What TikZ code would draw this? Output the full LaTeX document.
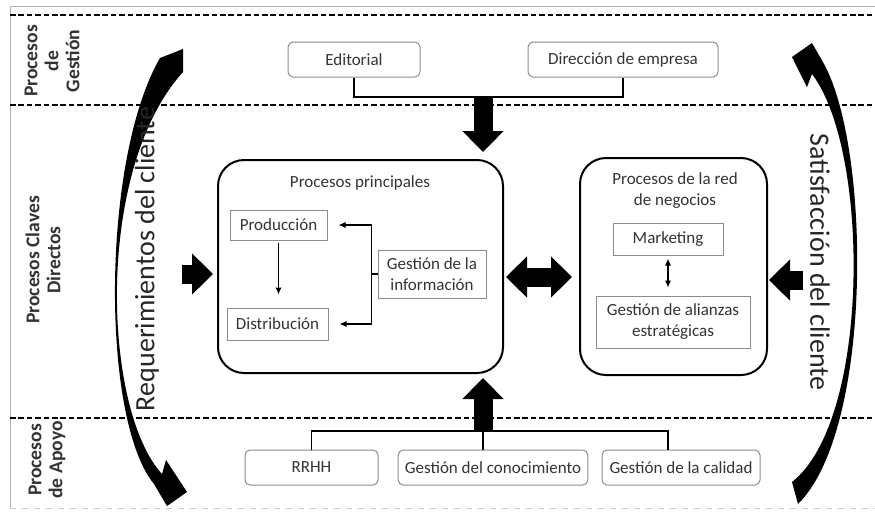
\documentclass[tikz,border=0pt]{standalone}
\usepackage{fontspec}
\setmainfont{Carlito}
\usetikzlibrary{positioning, arrows.meta, calc}

\begin{document}
\begin{tikzpicture}[ x = 0.5pt, y = -0.5pt
                   , font = \fontsize{8.5pt}{10.5pt}\selectfont
                   , >={Latex[width=3.2pt, length=3.5pt]}
                   , procbox/.style = { rectangle
                                      , rounded corners = 2.5pt
                                      , draw = black!45
                                      , line width = 0.5pt
                                      , text = black!80
                                      , minimum height = 17.5pt }
                   , subbox/.style = { rectangle
                                     , draw = black!45
                                     , line width = 0.5pt
                                     , text = black!80
                                     , align = center }
                   , bigbox/.style = { rectangle
                                     , rounded corners = 13pt
                                     , draw = black
                                     , line width = 1pt }
                   , zone/.style = { rotate = 90
                                     , align = center
                                     , text = black!80
                                     , font = \fontsize{9.8pt}{10.5pt}\selectfont\bfseries }
                   , sidetext/.style = { text = black!85
                                       , font = \fontsize{14pt}{16pt}\selectfont }
                   , sepline/.style = { line width = 1.2pt
                                      , dash pattern = on 2.8pt off 1.4pt }
                   , flow/.style = { line width = 0.75pt }
                   , blockarrow/.style = { line width = 9.5pt
                                         , -{Triangle[width=20pt, length=10.5pt]} }
                   ]

  \useasboundingbox (0,0) rectangle (875,511);

  % frame and bands
  \draw[black!30, line width = 0.5pt] (875,6) -- (10,6) -- (10,508);
  \draw[black!20, line width = 0.5pt, dashed] (10,508) -- (875,508);
  \draw[sepline] (10,15) -- (875,15);
  \draw[sepline] (10,105) -- (875,105);
  \draw[sepline] (10,418) -- (875,418);

  \node[zone] (zgest) at (52,61) {Procesos\\de\\Gestión};
  \node[zone] (zdir) at (43,260) {Procesos Claves\\Directos};
  \node[zone] (zapoyo) at (47,460) {Procesos\\de Apoyo};

  % gestion
  \node[procbox, minimum width = 66pt] (edit) at (354,59.5) {Editorial};
  \node[procbox, minimum width = 95pt] (direc) at (623,59.5) {Dirección de empresa};
  \coordinate (gjoin) at (483,97);

  % main processes
  \node[bigbox, minimum width = 142.5pt, minimum height = 106.5pt] (pp) at (360.5,266.5) {};
  \node[text = black!80] (pptitle) at (360,183) {Procesos principales};
  \node[subbox, minimum width = 48.5pt, minimum height = 15pt] (prod) at (278.5,225) {Producción};
  \node[subbox, minimum width = 50.5pt, minimum height = 16pt] (dist) at (277.5,324) {Distribución};
  \node[subbox, minimum width = 54pt, minimum height = 24pt] (ginfo) at (432,274) {Gestión de la\\información};

  \node[bigbox, minimum width = 93.5pt, minimum height = 108.5pt] (red) at (673.5,266.5) {};
  \node[text = black!80, align = center] (redtitle) at (675,191) {Procesos de la red\\de negocios};
  \node[subbox, minimum width = 55pt, minimum height = 16pt] (mkt) at (668,239) {Marketing};
  \node[subbox, minimum width = 77pt, minimum height = 26pt] (alian) at (673,322) {Gestión de alianzas\\estratégicas};

  % apoyo
  \node[procbox, minimum width = 66.5pt] (rrhh) at (311.5,467.5) {RRHH};
  \node[procbox, minimum width = 94pt] (conoc) at (493,467.5) {Gestión del conocimiento};
  \node[procbox, minimum width = 79pt] (calid) at (681,467.5) {Gestión de la calidad};
  \coordinate (ajoin) at (483,431);

  \coordinate (reqin) at (182,274);
  \coordinate (satin) at (803,280);

  % connectors
  \draw[flow] (edit.south) |- (gjoin -| direc.south) -- (direc.south);
  \draw[blockarrow, shorten >= 3.5pt] (gjoin) -- (gjoin |- pp.north);

  \draw[flow] (rrhh.north) |- ([xshift=-6.5pt]calid.north |- ajoin) -- ([xshift=-6.5pt]calid.north);
  \draw[flow] (ajoin) -- (ajoin |- conoc.north);
  \draw[blockarrow, shorten >= 2pt] (ajoin) -- (ajoin |- pp.south);

  \draw[flow, ->, shorten <= 1pt, shorten >= 6.5pt] (prod.south) -- (prod.south |- dist.north);
  \draw[flow] (ginfo.west) -- ++(-3pt,0) coordinate (gb);
  \draw[flow, ->, shorten >= 5.5pt] (gb) |- (prod.east);
  \draw[flow, ->, shorten >= 5.5pt] (gb) |- (dist.east);
  \draw[flow, <->, shorten <= 1.5pt, shorten >= 4pt] (mkt.south) -- (mkt.south |- alian.north);

  \draw[line width = 9.5pt, {Triangle[width=20pt, length=10.5pt]}-{Triangle[width=20pt, length=10.5pt]}, shorten <= 1pt, shorten >= 3.5pt]
    ([yshift=-5.25pt]pp.east) -- ([yshift=-5.25pt]red.west);
  \draw[blockarrow, shorten >= 2pt] (reqin) -- (reqin -| pp.west);
  \draw[blockarrow, shorten >= 0.5pt] (satin) -- (satin -| red.east);

  % customer arrows
  \fill (183,49) -- (160,58) .. controls (101,160) and (101,420) .. (154,484)
    -- (167,506) -- (187,492) -- (166,460) -- (162,474)
    .. controls (103,410) and (94,170) .. (183,72) -- cycle;
  \fill (792,482) -- (798,504) .. controls (873,430) and (871,150) .. (824,64)
    -- (812,43) -- (792,57) -- (807,87) -- (812,74)
    .. controls (870,150) and (871,420) .. (792,482) -- cycle;

  \node[sidetext, rotate = 90] (req) at (147,259) {Requerimientos del cliente};
  \node[sidetext, rotate = -90] (sat) at (820,262) {Satisfacción del cliente};

\end{tikzpicture}
\end{document}
